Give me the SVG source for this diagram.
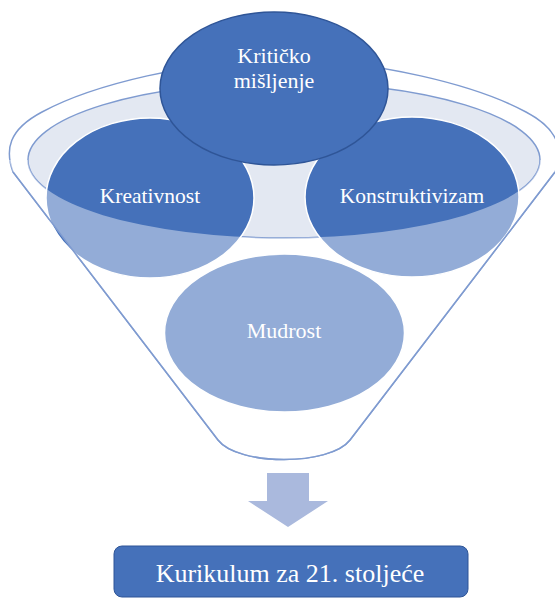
<svg xmlns="http://www.w3.org/2000/svg" width="555" height="599" viewBox="0 0 555 599">
  <style>
    .lbl { font-family: "Liberation Serif", "Times New Roman", serif; fill: #ffffff; text-anchor: middle; }
    .funnel { fill: #ffffff; stroke: #7f9bd0; stroke-width: 1.5; }
    .bowl { fill: #e3e8f2; stroke: #7f9bd0; stroke-width: 1.5; }
    .circ { fill: #4571ba; stroke: #ffffff; stroke-width: 1.5; }
    .front { fill: #ffffff; fill-opacity: 0.42; stroke: none; }
    .edge { fill: none; stroke: #7f9bd0; stroke-width: 1.5; }
  </style>
  <rect x="0" y="0" width="555" height="599" fill="#ffffff"/>

  <g id="funnel-back">
    <path class="funnel" d="M 13,172 C 5,150 8,130 42,112 C 92,85 192,60 284,60 C 376,60 476,85 526,112 C 560,130 563,150 555,172 L 350,440 C 330,466 238,466 218,440 Z"/>
    <ellipse class="bowl" cx="284" cy="160" rx="256" ry="78"/>
  </g>

  <g id="node-mudrost">
    <ellipse class="circ" cx="284.5" cy="333" rx="120" ry="79"/>
  </g>
  <g id="node-kreativnost">
    <ellipse class="circ" cx="150" cy="198" rx="104" ry="80"/>
  </g>
  <g id="node-konstruktivizam">
    <ellipse class="circ" cx="412" cy="197" rx="107" ry="80"/>
  </g>
  <g id="node-kriticko">
    <ellipse cx="274" cy="88.5" rx="114" ry="76.5" fill="#4571ba" stroke="#2f5597" stroke-width="1.5"/>
    <text class="lbl" x="274" y="63" font-size="22">Kritičko</text>
    <text class="lbl" x="274" y="88" font-size="22">mišljenje</text>
  </g>

  <g id="funnel-front">
    <path class="front" d="M 13,172 L 9,160 L 28,160 A 256,78 0 0 0 540,160 L 559,160 L 555,172 L 350,440 C 330,466 238,466 218,440 Z"/>
    <path class="edge" d="M 13,172 L 218,440 C 238,466 330,466 350,440 L 555,172"/>
  </g>

  <g id="labels">
    <text class="lbl" x="150" y="203" font-size="21.5">Kreativnost</text>
    <text class="lbl" x="412" y="203" font-size="21.5">Konstruktivizam</text>
    <text class="lbl" x="284" y="338" font-size="22">Mudrost</text>
  </g>

  <g id="connectors">
    <path d="M 267,473 L 309,473 L 309,501 L 328,501 L 288,527 L 248,501 L 267,501 Z" fill="#aab9dd"/>
  </g>

  <g id="node-kurikulum">
    <rect x="114" y="546" width="354" height="51" rx="8" ry="8" fill="#4571ba" stroke="#2f5597" stroke-width="1"/>
    <text class="lbl" x="290" y="582" font-size="26">Kurikulum za 21. stoljeće</text>
  </g>
</svg>
